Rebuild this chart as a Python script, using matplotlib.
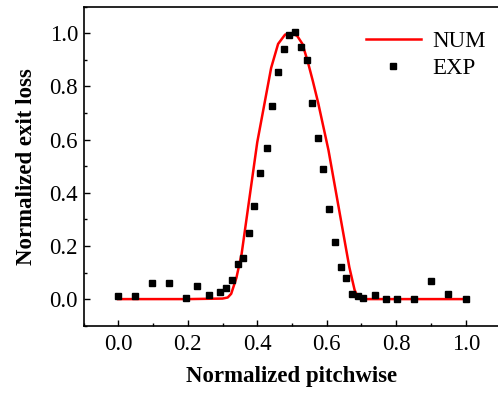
import matplotlib
matplotlib.use('Agg')

import matplotlib.pyplot as plt
from matplotlib.ticker import MultipleLocator

# ======================== Data ========================
# NUM: numerical exit loss profile (red line)
num_x = [0.0, 0.1, 0.2, 0.3, 0.315, 0.325, 0.34, 0.355, 0.37, 0.385, 0.40,
         0.42, 0.44, 0.46, 0.48, 0.50, 0.515, 0.53, 0.545, 0.56, 0.575,
         0.59, 0.605, 0.62, 0.635, 0.65, 0.665, 0.68, 0.69, 0.70, 0.8, 0.9, 1.0]
num_y = [0.0, 0.0, 0.0, 0.002, 0.006, 0.02, 0.08, 0.17, 0.31, 0.45, 0.59,
         0.73, 0.87, 0.96, 0.995, 1.0, 0.99, 0.96, 0.895, 0.82, 0.74,
         0.65, 0.56, 0.45, 0.34, 0.23, 0.12, 0.035, 0.005, 0.0, 0.0, 0.0, 0.0]

# EXP: measured exit loss (black squares)
exp_x = [0.0, 0.048, 0.097, 0.146, 0.196, 0.228, 0.261, 0.294, 0.310, 0.327,
         0.344, 0.360, 0.376, 0.392, 0.409, 0.427, 0.442, 0.460, 0.476, 0.491,
         0.508, 0.525, 0.542, 0.557, 0.576, 0.590, 0.607, 0.624, 0.640, 0.656,
         0.672, 0.689, 0.705, 0.738, 0.770, 0.803, 0.852, 0.901, 0.950, 1.0]
exp_y = [0.012, 0.012, 0.059, 0.061, 0.006, 0.048, 0.015, 0.025, 0.040, 0.070,
         0.131, 0.153, 0.250, 0.351, 0.475, 0.568, 0.727, 0.856, 0.942, 0.994,
         1.004, 0.947, 0.899, 0.736, 0.606, 0.490, 0.339, 0.213, 0.122, 0.080,
         0.021, 0.011, 0.006, 0.015, 0.0, 0.0, 0.0, 0.068, 0.019, 0.0]

X_TICKS = [0.0, 0.2, 0.4, 0.6, 0.8, 1.0]
Y_TICKS = [0.0, 0.2, 0.4, 0.6, 0.8, 1.0]

# ======================== Style ========================
plt.rcParams['font.family'] = ['Liberation Serif', 'DejaVu Serif']
TICK_SIZE = 16.5
LABEL_SIZE = 16.5
LEGEND_SIZE = 16.5

fig = plt.figure(figsize=(4.98, 3.94), dpi=100)
ax = fig.add_axes([0.1677, 0.1734, 0.8373, 0.8096])

ax.plot(num_x, num_y, color='#ff0000', lw=1.8, label='NUM')
ax.plot(exp_x, exp_y, ls='none', marker='s', ms=4.3, color='black', label='EXP')

ax.set_xlim(-0.1, 1.1)
ax.set_ylim(-0.1, 1.1)
ax.set_xticks(X_TICKS)
ax.set_yticks(Y_TICKS)
ax.xaxis.set_minor_locator(MultipleLocator(0.1))
ax.yaxis.set_minor_locator(MultipleLocator(0.1))
ax.tick_params(which='both', direction='in', labelsize=TICK_SIZE, width=1.0)
ax.tick_params(which='major', length=4.5)
ax.tick_params(which='minor', length=2.5)
ax.tick_params(axis='x', which='major', pad=6)
ax.tick_params(axis='y', which='major', pad=4)
for s in ax.spines.values():
    s.set_linewidth(1.2)

ax.set_xlabel('Normalized pitchwise', fontsize=LABEL_SIZE, fontweight='bold', labelpad=8)
ax.set_ylabel('Normalized exit loss', fontsize=LABEL_SIZE, fontweight='bold', labelpad=9)

ax.legend(loc='upper right', frameon=False, fontsize=LEGEND_SIZE, handlelength=2.4,
          handletextpad=0.5, bbox_to_anchor=(0.965, 0.925), borderpad=0,
          borderaxespad=0, labelspacing=0.29)

fig.savefig('out.png', dpi=100)
